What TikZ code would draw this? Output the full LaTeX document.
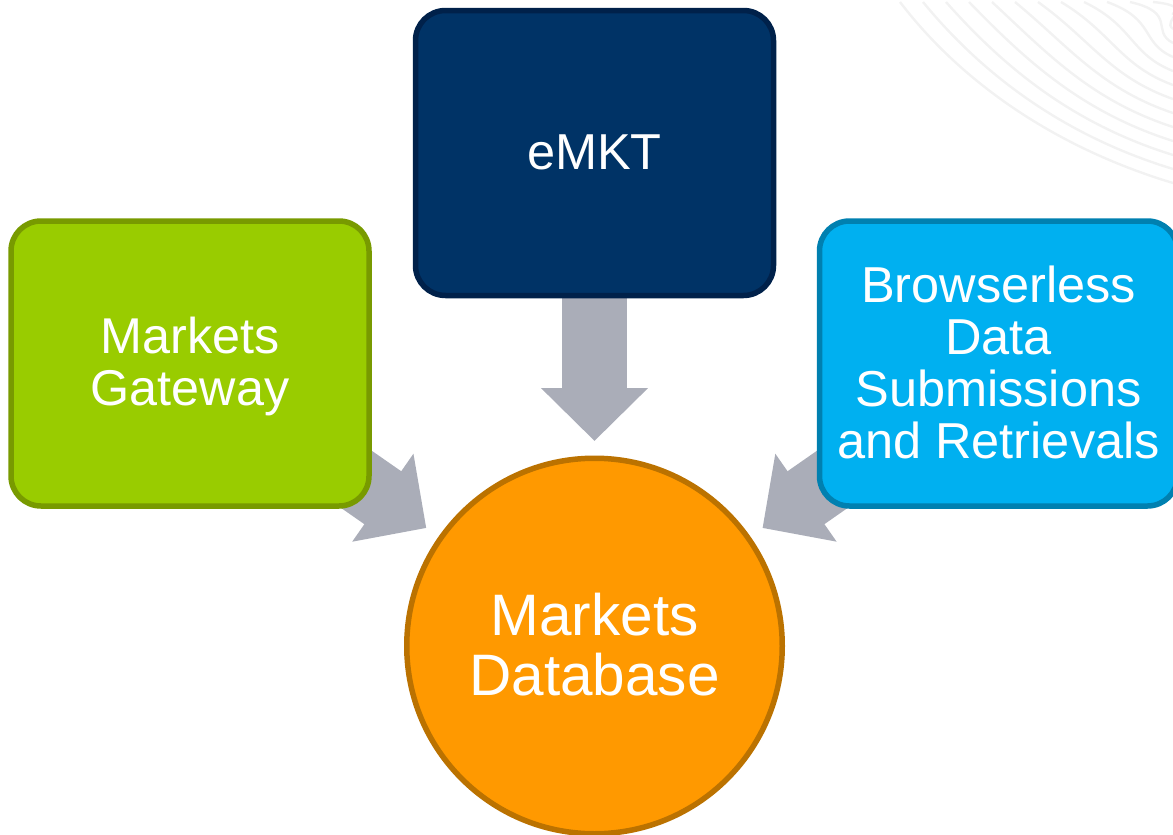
\documentclass[tikz,border=0pt]{standalone}
\usepackage{fontspec}
\setmainfont{Liberation Sans}
\usetikzlibrary{arrows.meta,backgrounds}
\definecolor{navyfill}{HTML}{003366}
\definecolor{navyline}{HTML}{00214A}
\definecolor{greenfill}{HTML}{99CC00}
\definecolor{greenline}{HTML}{789A00}
\definecolor{bluefill}{HTML}{00B0F0}
\definecolor{blueline}{HTML}{0080B0}
\definecolor{orangefill}{HTML}{FF9900}
\definecolor{orangeline}{HTML}{BB7200}
\definecolor{arrowgrey}{HTML}{AAADB8}
\definecolor{swirl}{HTML}{F2F2F2}
\tikzset{
  card/.style={draw,line width=5.5pt,rounded corners=30pt,minimum width=358pt,minimum height=285pt,align=center,text=white,inner sep=0pt},
  hub/.style={circle,draw=orangeline,fill=orangefill,line width=5.5pt,minimum size=375.5pt,align=center,text=white,inner sep=0pt},
  blockarrow/.style={draw=arrowgrey,line width=64.5pt,-{Triangle[length=53pt,width=104pt,fill=arrowgrey]}},
  swirlline/.style={draw=swirl,line width=2.4pt}
}
\begin{document}
\begin{tikzpicture}[x=1pt,y=-1pt]
\useasboundingbox (0,0) rectangle (1173,835);
\foreach \i in {0,...,13}{
  \pgfmathsetmacro{\sx}{900+\i*23}
  \pgfmathsetmacro{\ey}{183-\i*14}
  \pgfmathsetmacro{\ax}{958+\i*22}
  \pgfmathsetmacro{\ay}{78-\i*6.5}
  \pgfmathsetmacro{\bx}{1050+\i*10}
  \pgfmathsetmacro{\by}{146-\i*11.5}
  \draw[swirlline] (\sx,2) .. controls (\ax,\ay) and (\bx,\by) .. (1173,\ey);
}
\node[card,fill=navyfill,draw=navyline,font=\fontsize{50.5}{52}\selectfont] (emkt) at (594.5,153) {eMKT\rule[-2.6pt]{0pt}{1pt}};
\node[card,fill=greenfill,draw=greenline,font=\fontsize{50.3}{52}\selectfont] (gateway) at (190,363.5) {\rule{0pt}{42.5pt}Markets\\Gateway};
\node[card,fill=bluefill,draw=blueline,font=\fontsize{50.5}{52}\selectfont] (browserless) at (998.5,363.5) {Browserless\\Data\\Submissions\\and Retrievals\rule[-3.5pt]{0pt}{1pt}};
\node[hub,font=\fontsize{58.5}{60}\selectfont] (database) at (594.5,646) {Markets\\Database\rule[-4pt]{0pt}{1pt}};
\coordinate (tipM) at (594.5,441);
\coordinate (tipL) at (426.3,528);
\coordinate (tipR) at (762.5,528);
\begin{scope}[on background layer]
\draw[blockarrow] (emkt.center) -- (tipM);
\draw[blockarrow] (gateway.center) -- (tipL);
\draw[blockarrow] (browserless.center) -- (tipR);
\end{scope}
\end{tikzpicture}
\end{document}
